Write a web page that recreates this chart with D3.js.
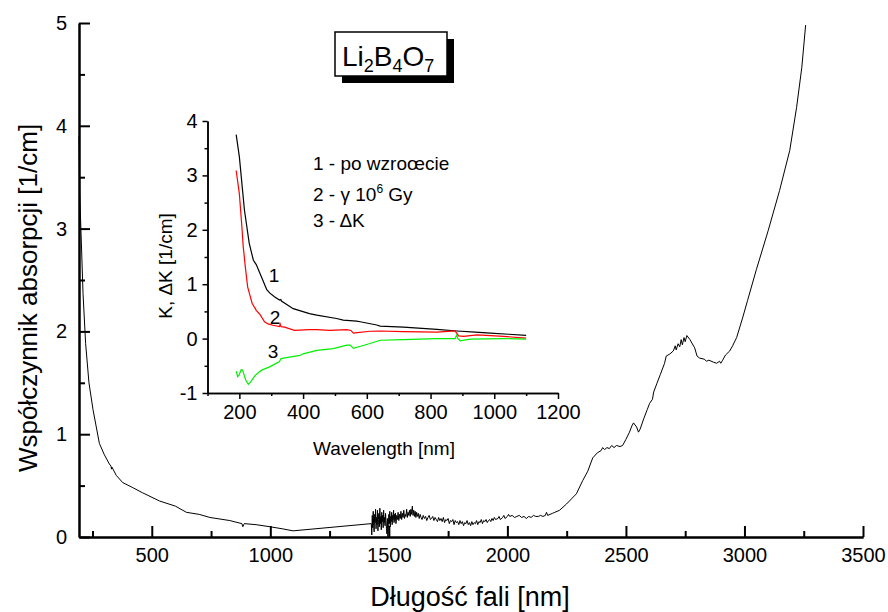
<!DOCTYPE html>
<html>
<head>
<meta charset="utf-8">
<script src="https://cdn.jsdelivr.net/npm/d3@7"></script>
<style>
  body { margin: 0; background: #fff; }
  svg { display: block; font-family: "Liberation Sans", Arial, sans-serif; }
</style>
</head>
<body>
<svg id="chart" width="888" height="612"></svg>
<script>
// main spectrum: wavelength [nm], absorption coefficient [1/cm]
const mainCurve = [
  [193, 3.9], [196, 3.34], [203, 2.86], [210, 2.37], [221, 1.88], [235, 1.50], [252, 1.24],
  [279, 0.91], [300, 0.80], [321, 0.71], [328, 0.69], [330, 0.66], [332, 0.68], [350, 0.60],
  [377, 0.53], [420, 0.48], [461, 0.43], [533, 0.35], [600, 0.30], [646, 0.24], [700, 0.22],
  [745, 0.19], [829, 0.16], [880, 0.13], [884, 0.10], [890, 0.13], [940, 0.12], [998, 0.10],
  [1050, 0.08], [1096, 0.06],
  [1426, 0.13], [1428, 0.02], [1430, 0.21], [1432, 0.09], [1434, 0.25], [1436, 0.11],
  [1438, 0.05], [1440, 0.22], [1442, 0.14], [1444, 0.27], [1446, 0.08], [1448, 0.19],
  [1450, 0.12], [1452, 0.26], [1454, 0.06], [1456, 0.17], [1458, 0.23], [1460, 0.10],
  [1462, 0.28], [1464, 0.13], [1466, 0.20], [1468, 0.07], [1470, 0.24], [1472, 0.15],
  [1474, 0.21], [1476, 0.09], [1478, 0.26], [1480, 0.14], [1482, 0.19], [1484, 0.11],
  [1486, 0.23], [1488, 0.16], [1490, 0.08], [1492, 0.03], [1494, 0.18], [1496, 0.00],
  [1498, 0.12], [1500, 0.22], [1502, 0.13], [1504, 0.25], [1506, 0.10], [1508, 0.20],
  [1510, 0.15], [1512, 0.24], [1514, 0.12], [1516, 0.21], [1518, 0.17], [1520, 0.26],
  [1522, 0.14], [1524, 0.22], [1526, 0.16], [1528, 0.23], [1530, 0.13], [1533, 0.21],
  [1536, 0.17], [1539, 0.24], [1542, 0.16], [1545, 0.22], [1548, 0.18], [1551, 0.25],
  [1554, 0.17], [1557, 0.23], [1560, 0.19], [1563, 0.26], [1566, 0.18], [1569, 0.22],
  [1572, 0.20], [1575, 0.27], [1578, 0.19], [1581, 0.24], [1584, 0.21], [1587, 0.26],
  [1590, 0.20], [1593, 0.27], [1596, 0.22], [1599, 0.30], [1602, 0.21], [1605, 0.26],
  [1608, 0.20], [1611, 0.25], [1614, 0.19], [1617, 0.24], [1620, 0.20], [1624, 0.23],
  [1628, 0.18], [1632, 0.22], [1636, 0.19], [1640, 0.17], [1645, 0.21], [1650, 0.18],
  [1655, 0.20], [1660, 0.16], [1665, 0.19], [1670, 0.21], [1675, 0.17], [1680, 0.18],
  [1685, 0.20], [1690, 0.16], [1695, 0.19], [1700, 0.17], [1705, 0.15], [1710, 0.19],
  [1715, 0.16], [1720, 0.18], [1725, 0.15], [1730, 0.19], [1735, 0.14], [1740, 0.17],
  [1745, 0.16], [1750, 0.18], [1755, 0.13], [1760, 0.16], [1765, 0.15], [1770, 0.17],
  [1775, 0.12], [1780, 0.16], [1785, 0.14], [1790, 0.15], [1795, 0.12], [1800, 0.16],
  [1805, 0.13], [1810, 0.15], [1815, 0.11], [1820, 0.14], [1825, 0.13], [1830, 0.16],
  [1835, 0.12], [1840, 0.14], [1845, 0.11], [1850, 0.15], [1855, 0.12], [1860, 0.14],
  [1865, 0.13], [1870, 0.16], [1875, 0.12], [1880, 0.15], [1885, 0.14], [1890, 0.17],
  [1895, 0.13], [1900, 0.16], [1905, 0.15], [1910, 0.17], [1915, 0.14], [1920, 0.16],
  [1925, 0.17], [1930, 0.15], [1935, 0.18], [1940, 0.16], [1945, 0.19], [1950, 0.17],
  [1960, 0.18], [1965, 0.20], [1970, 0.17], [1980, 0.19], [1985, 0.21], [1990, 0.18],
  [2000, 0.20], [2005, 0.22], [2010, 0.20], [2020, 0.21], [2030, 0.19], [2040, 0.20],
  [2050, 0.21], [2060, 0.19], [2070, 0.20], [2080, 0.18], [2090, 0.20], [2100, 0.19],
  [2110, 0.21], [2120, 0.20], [2130, 0.20], [2140, 0.21], [2150, 0.20], [2160, 0.21],
  [2165, 0.24], [2170, 0.21], [2180, 0.22], [2190, 0.23], [2200, 0.24], [2220, 0.26],
  [2249, 0.32], [2270, 0.37], [2291, 0.42], [2318, 0.55], [2339, 0.64], [2360, 0.77],
  [2380, 0.82], [2395, 0.84], [2402, 0.87], [2410, 0.85], [2420, 0.87], [2430, 0.86],
  [2440, 0.89], [2450, 0.87], [2460, 0.89], [2475, 0.88], [2486, 0.89], [2500, 0.95],
  [2515, 1.02], [2525, 1.08], [2532, 1.11], [2545, 1.07], [2553, 1.02], [2560, 1.05],
  [2575, 1.15], [2590, 1.24], [2600, 1.30], [2612, 1.34], [2617, 1.41], [2630, 1.49],
  [2645, 1.58], [2663, 1.69], [2670, 1.76], [2685, 1.78], [2700, 1.81], [2708, 1.86],
  [2712, 1.82], [2720, 1.88], [2727, 1.85], [2733, 1.92], [2738, 1.87], [2745, 1.94],
  [2750, 1.90], [2757, 1.96], [2770, 1.92], [2790, 1.84], [2800, 1.76], [2811, 1.74],
  [2830, 1.73], [2840, 1.71], [2850, 1.72], [2870, 1.70], [2883, 1.69], [2895, 1.71],
  [2900, 1.69], [2908, 1.72], [2920, 1.77], [2938, 1.81], [2950, 1.86], [2967, 1.94],
  [2992, 2.13], [3013, 2.30], [3050, 2.60], [3100, 2.98], [3148, 3.37], [3191, 3.76],
  [3220, 4.18], [3242, 4.57], [3258, 4.98]
];

// inset: 1 - po wzroście (black), 2 - gamma 10^6 Gy (red), 3 - delta K (green)
const curve1 = [
  [190, 3.75], [200, 3.34], [216, 2.36], [231, 1.75], [244, 1.44], [253, 1.36], [274, 1.07],
  [286, 0.90], [295, 0.84], [310, 0.77], [326, 0.71], [330, 0.72], [332, 0.69], [369, 0.55],
  [420, 0.46], [443, 0.43], [505, 0.37], [526, 0.34], [568, 0.32], [579, 0.31], [631, 0.25],
  [642, 0.23], [715, 0.21], [820, 0.17], [883, 0.14], [940, 0.12], [988, 0.10], [1045, 0.08],
  [1100, 0.06]
];
const curve2 = [
  [190, 3.09], [200, 2.66], [208, 2.05], [212, 1.70], [219, 1.30], [226, 0.95], [233, 0.80],
  [240, 0.65], [253, 0.52], [265, 0.44], [279, 0.31], [290, 0.27], [305, 0.245], [326, 0.22],
  [328, 0.27], [331, 0.22], [342, 0.21], [373, 0.15], [420, 0.165], [443, 0.165], [484, 0.15],
  [537, 0.165], [550, 0.15], [558, 0.10], [570, 0.11], [610, 0.135], [642, 0.14], [715, 0.13],
  [820, 0.12], [877, 0.14], [882, 0.10], [888, 0.05], [904, 0.04], [946, 0.07], [1030, 0.04],
  [1100, 0.01]
];
const curve3 = [
  [190, -0.60], [195, -0.70], [200, -0.66], [206, -0.57], [210, -0.58], [220, -0.76],
  [228, -0.84], [235, -0.80], [249, -0.68], [263, -0.61], [270, -0.58], [295, -0.52],
  [326, -0.42], [330, -0.37], [338, -0.36], [390, -0.31], [400, -0.28], [443, -0.215],
  [495, -0.185], [537, -0.12], [548, -0.12], [558, -0.18], [575, -0.15], [610, -0.09],
  [642, -0.03], [715, -0.02], [820, 0.00], [877, 0.00], [882, 0.06], [886, 0.00],
  [893, -0.04], [924, -0.01], [1030, 0.00], [1100, -0.01]
];

// tick values
const mainXMajor = [500, 1000, 1500, 2000, 2500, 3000, 3500];
const mainXMinor = [250, 750, 1250, 1750, 2250, 2750, 3250];
const mainYMajor = [0, 1, 2, 3, 4, 5];
const mainYMinor = [0.5, 1.5, 2.5, 3.5, 4.5];
const insetXMajor = [200, 400, 600, 800, 1000, 1200];
const insetXMinor = [100, 300, 500, 700, 900, 1100];
const insetYMajor = [-1, 0, 1, 2, 3, 4];
const insetYMinor = [-0.5, 0.5, 1.5, 2.5, 3.5];

const svg = d3.select('#chart');
const plain = d => d < 0 ? '-' + Math.abs(d) : String(d);

// ---- main plot
const x = d3.scaleLinear().domain([193, 3500]).range([79, 863]);
const y = d3.scaleLinear().domain([0, 5]).range([537, 23]);

function styleAxis(g, w) {
  g.select('.domain').attr('stroke-width', w);
  g.selectAll('.tick line').attr('stroke-width', w);
}

const xMinorG = svg.append('g').attr('transform', 'translate(0,537)')
  .call(d3.axisBottom(x).tickValues(mainXMinor).tickSize(-6).tickSizeOuter(0).tickFormat(''));
styleAxis(xMinorG, 2);
const xMajorG = svg.append('g').attr('transform', 'translate(0,537)')
  .call(d3.axisBottom(x).tickValues(mainXMajor).tickSize(-11).tickSizeOuter(0).tickPadding(11)
    .tickFormat(plain));
styleAxis(xMajorG, 2);
xMajorG.selectAll('text').attr('font-size', 20).attr('fill', '#000');

const yMinorG = svg.append('g').attr('transform', 'translate(79,0)')
  .call(d3.axisLeft(y).tickValues(mainYMinor).tickSize(-6).tickSizeOuter(0).tickFormat(''));
styleAxis(yMinorG, 2);
const yMajorG = svg.append('g').attr('transform', 'translate(79,0)')
  .call(d3.axisLeft(y).tickValues(mainYMajor).tickSize(-11).tickSizeOuter(0).tickPadding(12)
    .tickFormat(plain));
styleAxis(yMajorG, 2);
yMajorG.selectAll('text').attr('font-size', 20).attr('fill', '#000');

svg.append('path')
  .datum(mainCurve)
  .attr('fill', 'none')
  .attr('stroke', '#000')
  .attr('stroke-width', 1)
  .attr('d', d3.line().x(d => x(d[0])).y(d => y(d[1])));

svg.append('text')
  .attr('x', 470).attr('y', 606)
  .attr('text-anchor', 'middle').attr('font-size', 27)
  .text('Długość fali [nm]');
svg.append('text')
  .attr('transform', 'translate(37,298) rotate(-90)')
  .attr('text-anchor', 'middle').attr('font-size', 26)
  .text('Współczynnik absorpcji [1/cm]');

// title box with shadow
svg.append('rect').attr('x', 342).attr('y', 39).attr('width', 112).attr('height', 44).attr('fill', '#000');
svg.append('rect').attr('x', 335).attr('y', 32).attr('width', 112).attr('height', 44)
  .attr('fill', '#fff').attr('stroke', '#000').attr('stroke-width', 1.5);
const title = svg.append('text').attr('x', 342).attr('y', 66).attr('font-size', 28);
title.append('tspan').text('Li');
title.append('tspan').attr('font-size', 18).attr('dy', 6).text('2');
title.append('tspan').attr('dy', -6).text('B');
title.append('tspan').attr('font-size', 18).attr('dy', 6).text('4');
title.append('tspan').attr('dy', -6).text('O');
title.append('tspan').attr('font-size', 18).attr('dy', 6).text('7');

// ---- inset plot
const ix = d3.scaleLinear().domain([100, 1200]).range([207.5, 558]);
const iy = d3.scaleLinear().domain([-1, 4]).range([393, 121]);

const ixMinorG = svg.append('g').attr('transform', 'translate(0,393)')
  .call(d3.axisBottom(ix).tickValues(insetXMinor).tickSize(3).tickSizeOuter(0).tickFormat(''));
styleAxis(ixMinorG, 1.5);
const ixMajorG = svg.append('g').attr('transform', 'translate(0,393)')
  .call(d3.axisBottom(ix).tickValues(insetXMajor).tickSize(6).tickSizeOuter(0).tickPadding(6)
    .tickFormat(plain));
styleAxis(ixMajorG, 1.5);
ixMajorG.selectAll('text').attr('font-size', 20).attr('fill', '#000');

const iyMinorG = svg.append('g').attr('transform', 'translate(207.5,0)')
  .call(d3.axisLeft(iy).tickValues(insetYMinor).tickSize(3).tickSizeOuter(0).tickFormat(''));
styleAxis(iyMinorG, 1.5);
const iyMajorG = svg.append('g').attr('transform', 'translate(207.5,0)')
  .call(d3.axisLeft(iy).tickValues(insetYMajor).tickSize(5).tickSizeOuter(0).tickPadding(5)
    .tickFormat(plain));
styleAxis(iyMajorG, 1.5);
iyMajorG.selectAll('text').attr('font-size', 20).attr('fill', '#000');

const iline = d3.line().x(d => ix(d[0])).y(d => iy(d[1]));
[[curve1, '#000'], [curve2, '#ff0000'], [curve3, '#00f000']].forEach(([data, c]) => {
  svg.append('path').datum(data)
    .attr('fill', 'none').attr('stroke', c).attr('stroke-width', 1.2)
    .attr('d', iline);
});

// curve numbers
[['1', 309, 1.17], ['2', 312, 0.39], ['3', 306, -0.23]].forEach(([t, wl, v]) => {
  svg.append('text').attr('x', ix(wl)).attr('y', iy(v) + 7)
    .attr('text-anchor', 'middle').attr('font-size', 19).text(t);
});

// legend
const legend = svg.append('g').attr('font-size', 19);
legend.append('text').attr('x', 313).attr('y', 170).text('1 - po wzroœcie');
const l2 = legend.append('text').attr('x', 313).attr('y', 201);
l2.append('tspan').text('2 - γ 10');
l2.append('tspan').attr('font-size', 12).attr('dy', -8).text('6');
l2.append('tspan').attr('dy', 8).text(' Gy');
legend.append('text').attr('x', 313).attr('y', 227).text('3 - ΔK');

svg.append('text')
  .attr('x', 384).attr('y', 455)
  .attr('text-anchor', 'middle').attr('font-size', 19)
  .text('Wavelength [nm]');
svg.append('text')
  .attr('transform', 'translate(172,266) rotate(-90)')
  .attr('text-anchor', 'middle').attr('font-size', 19)
  .text('K, ΔK [1/cm]');
</script>
</body>
</html>
